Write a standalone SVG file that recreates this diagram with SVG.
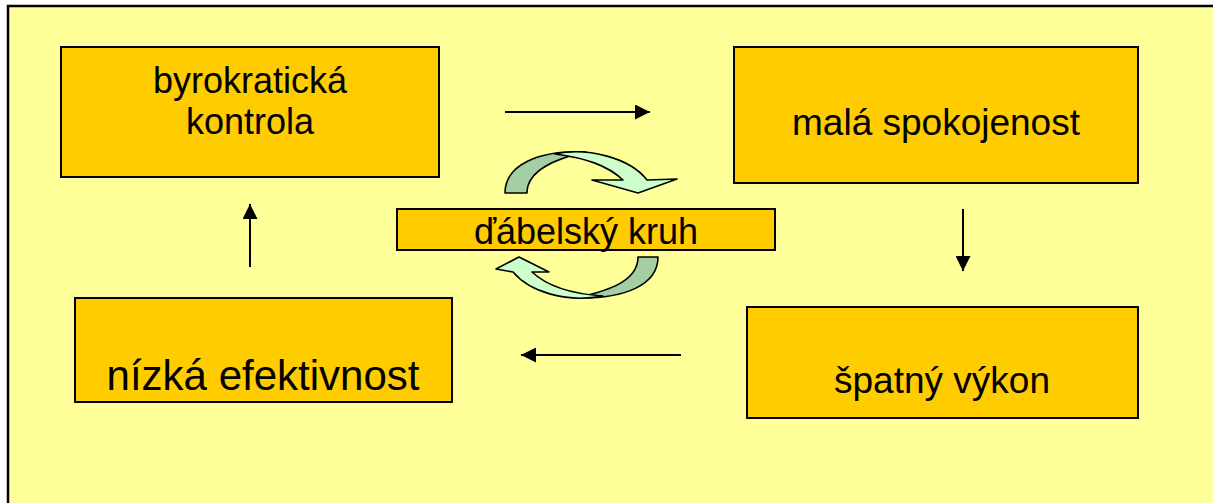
<svg xmlns="http://www.w3.org/2000/svg" width="1213" height="503" viewBox="0 0 1213 503">
  <defs>
    <style>
      .box { fill: #FFCC00; stroke: #000; stroke-width: 2; }
      .lbl { font-family: "Liberation Sans", Arial, sans-serif; fill: #000; text-anchor: middle; }
      .conn { stroke: #000; stroke-width: 2; fill: none; }
      .dark { fill: #A3CFA3; stroke: #000; stroke-width: 1.6; stroke-linejoin: round; }
      .light { fill: #CCFFCC; stroke: #000; stroke-width: 1.6; stroke-linejoin: round; }
    </style>
    <marker id="ah" markerUnits="userSpaceOnUse" markerWidth="15" markerHeight="15" refX="15" refY="7.5" orient="auto">
      <path d="M0,0 L15,7.5 L0,15 Z" fill="#000"/>
    </marker>
  </defs>
  <rect x="0" y="0" width="1213" height="503" fill="#FFFFFF"/>
  <rect x="8" y="6" width="1230" height="520" fill="#FFFF99" stroke="#000" stroke-width="2.5"/>

  <g id="connectors">
    <line class="conn" x1="505" y1="112" x2="650" y2="112" marker-end="url(#ah)"/>
    <line class="conn" x1="963" y1="209" x2="963" y2="271" marker-end="url(#ah)"/>
    <line class="conn" x1="681" y1="355" x2="521" y2="355" marker-end="url(#ah)"/>
    <line class="conn" x1="250" y1="267" x2="250" y2="204" marker-end="url(#ah)"/>
  </g>

  <g id="cycle-top">
    <path class="dark" d="M505,193 C505,165 538,150 586,152 C558,158 527,170 527,193 Z"/>
    <path class="light" d="M555,154 C588,147 630,158 647,180 L677,179 L638,193 L592,180 L623,180 C607,165 585,158 555,154 Z"/>
  </g>
  <g id="cycle-bottom">
    <path class="dark" d="M658,257 C658,285 625,299 576,298 C612,290 638,280 638,257 Z"/>
    <path class="light" d="M603,296 C566,303 530,292 513,272 L496,269 L519,257 L549,272 L532,272 C548,287 573,294 603,296 Z"/>
  </g>

  <g id="node-byrokraticka">
    <rect class="box" x="61" y="47" width="378" height="130"/>
    <text class="lbl" x="250" y="93" font-size="36">byrokratická</text>
    <text class="lbl" x="250" y="134" font-size="36">kontrola</text>
  </g>
  <g id="node-mala">
    <rect class="box" x="734" y="47" width="404" height="136"/>
    <text class="lbl" x="936" y="135" font-size="37">malá spokojenost</text>
  </g>
  <g id="node-nizka">
    <rect class="box" x="75" y="298" width="377" height="104"/>
    <text class="lbl" x="263" y="390" font-size="42">nízká efektivnost</text>
  </g>
  <g id="node-spatny">
    <rect class="box" x="747" y="307" width="391" height="111"/>
    <text class="lbl" x="942" y="393" font-size="37">špatný výkon</text>
  </g>
  <g id="node-kruh">
    <rect class="box" x="397" y="209" width="378" height="41"/>
    <text class="lbl" x="586" y="244" font-size="36">ďábelský kruh</text>
  </g>
</svg>
